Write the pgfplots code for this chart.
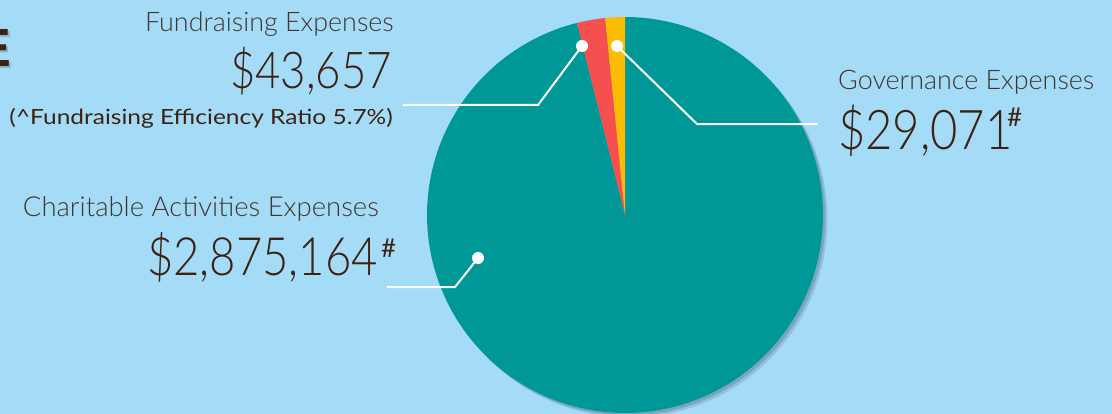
\documentclass[border=0pt]{standalone}
\usepackage{pgfplots}
\pgfplotsset{compat=1.18}
\usepackage{fontspec}
\setmainfont{Lato}
\newfontfamily\lightfont{Lato Light}
\newfontfamily\numfont{Lato Light}[FakeStretch=0.86]
\newfontfamily\notefont{Lato}[FakeStretch=1.17]
\newfontfamily\titlefont{Liberation Sans}
\definecolor{bg}{HTML}{A4DBF7}
\definecolor{tealc}{HTML}{009896}
\definecolor{redc}{HTML}{F5504F}
\definecolor{yellowc}{HTML}{FCBC00}
\definecolor{shadowc}{HTML}{5A7B92}
\definecolor{hdr}{HTML}{43352C}
\definecolor{num}{HTML}{3B2213}

% shares of the circle as drawn (percent)
\def\gov{1.6}
\def\fund{2.3}
\def\chari{96.1}

\begin{document}
\begin{tikzpicture}
\pgfmathsetmacro\aA{90}
\pgfmathsetmacro\aB{90+3.6*\gov}
\pgfmathsetmacro\aC{\aB+3.6*\fund}
\pgfmathsetmacro\aD{\aC+3.6*\chari}
\begin{axis}[
  scale only axis, width=1112bp, height=414bp,
  xmin=0, xmax=1112, ymin=0, ymax=414, y dir=reverse,
  hide axis, clip=true,
]
\fill[bg] (axis cs:0,0) rectangle (axis cs:1112,414);
% partial title letter
\node[anchor=base west, inner sep=0, text=black!60, opacity=0.35] at (axis cs:-23,69) {\titlefont\bfseries\fontsize{54}{54}\selectfont E};
\node[anchor=base west, inner sep=0, text=num] at (axis cs:-25,67) {\titlefont\bfseries\fontsize{54}{54}\selectfont E};
% shadow
\addplot[fill=shadowc, draw=none, opacity=0.25, domain=0:360, samples=180] ({629.5+198*cos(x)},{219.5-198*sin(x)});
\addplot[fill=shadowc, draw=none, opacity=0.4, domain=0:360, samples=180] ({627.5+198*cos(x)},{217.5-198*sin(x)});
% slices
\addplot[fill=tealc, draw=none, domain=\aC:\aD, samples=200] ({625+198*cos(x)},{215-198*sin(x)}) -- (axis cs:625,215) -- cycle;
\addplot[fill=redc, draw=none, domain=\aB:\aC, samples=10] ({625+198*cos(x)},{215-198*sin(x)}) -- (axis cs:625,215) -- cycle;
\addplot[fill=yellowc, draw=none, domain=\aA:\aB, samples=10] ({625+198*cos(x)},{215-198*sin(x)}) -- (axis cs:625,215) -- cycle;
% connectors
\draw[white, line width=2bp] (axis cs:582,46) -- (axis cs:538,105) -- (axis cs:403,105);
\fill[white] (axis cs:582,46) circle (6bp);
\draw[white, line width=2bp] (axis cs:617,46) -- (axis cs:697,124) -- (axis cs:818,124);
\fill[white] (axis cs:617,46) circle (6bp);
\draw[white, line width=2bp] (axis cs:478,258) -- (axis cs:455,287) -- (axis cs:387,287);
\fill[white] (axis cs:478,258) circle (6bp);
% labels
\node[anchor=base east, inner sep=0, text=hdr] at (axis cs:394,32) {\lightfont\fontsize{27}{27}\selectfont Fundraising Expenses};
\node[anchor=base east, inner sep=0, text=num] at (axis cs:392,89) {\numfont\fontsize{51}{51}\selectfont \$43,657};
\node[anchor=base east, inner sep=0, text=num] at (axis cs:393,124) {\notefont\fontsize{21}{21}\selectfont (\textasciicircum Fundraising Efficiency Ratio 5.7\%)};
\node[anchor=base east, inner sep=0, text=hdr] at (axis cs:379,216) {\lightfont\fontsize{27.6}{27.6}\selectfont Charitable Activities Expenses};
\node[anchor=base east, inner sep=0, text=num] at (axis cs:378,275) {\numfont\fontsize{53}{53}\selectfont \$2,875,164};
\node[anchor=north west, inner sep=0, text=num] at (axis cs:381,239) {\fontsize{26}{26}\selectfont \#};
\node[anchor=base west, inner sep=0, text=hdr] at (axis cs:838,90) {\lightfont\fontsize{27}{27}\selectfont Governance Expenses};
\node[anchor=base west, inner sep=0, text=num] at (axis cs:838,149) {\numfont\fontsize{55}{55}\selectfont \$29,071};
\node[anchor=north west, inner sep=0, text=num] at (axis cs:1007,108) {\fontsize{26}{26}\selectfont \#};
\end{axis}
\pgfresetboundingbox
\path (current axis.south west) rectangle (current axis.north east);
\end{tikzpicture}
\end{document}
